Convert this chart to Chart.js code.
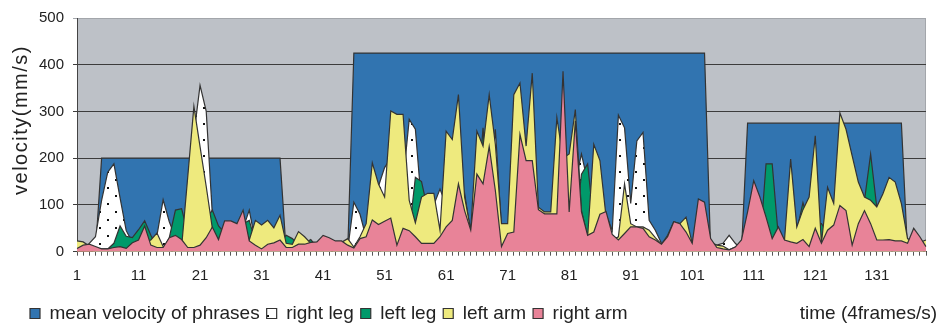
<!DOCTYPE html>
<html lang="en">
<head>
<meta charset="UTF-8">
<title>Velocity of body parts</title>
<script src="https://cdn.jsdelivr.net/npm/chart.js"></script>
<style>
  html, body { margin: 0; padding: 0; background: #ffffff; }
  #wrap { width: 940px; height: 327px; }
</style>
</head>
<body>
<div id="wrap"><canvas id="velocityChart" width="940" height="327"></canvas></div>
<script>
  // time axis: one category per sample (4 frames/s), labelled every 10th
  const frames = Array.from({ length: 139 }, (_, i) => i + 1);
  const labelEvery = 10;
  const yTicks = [0, 100, 200, 300, 400, 500];

  const meanVelocity = [
    0, 0, 0, 0, 200, 200, 200, 200, 200, 200,
    200, 200, 200, 200, 200, 200, 200, 200, 200, 200,
    200, 200, 200, 200, 200, 200, 200, 200, 200, 200,
    200, 200, 200, 200, 0, 0, 0, 0, 0, 0,
    0, 0, 0, 0, 0, 425, 425, 425, 425, 425,
    425, 425, 425, 425, 425, 425, 425, 425, 425, 425,
    425, 425, 425, 425, 425, 425, 425, 425, 425, 425,
    425, 425, 425, 425, 425, 425, 425, 425, 425, 425,
    425, 425, 425, 425, 425, 425, 425, 425, 425, 425,
    425, 425, 425, 425, 425, 425, 425, 425, 425, 425,
    425, 425, 425, 0, 0, 0, 0, 0, 0, 275,
    275, 275, 275, 275, 275, 275, 275, 275, 275, 275,
    275, 275, 275, 275, 275, 275, 275, 275, 275, 275,
    275, 275, 275, 275, 275, 0, 0, 0, 0
  ];

  const rightLeg = [
    0, 0, 18, 32, 110, 170, 188, 115, 45, 20,
    10, 10, 20, 35, 111, 64, 30, 20, 30, 250,
    356, 301, 80, 20, 20, 20, 20, 50, 89, 20,
    5, 5, 5, 5, 5, 5, 5, 5, 5, 5,
    5, 5, 5, 5, 5, 106, 80, 30, 100, 140,
    180, 200, 150, 150, 283, 262, 100, 100, 100, 134,
    100, 100, 100, 100, 40, 100, 100, 100, 262, 50,
    50, 50, 50, 50, 50, 50, 50, 50, 50, 50,
    150, 150, 209, 150, 100, 100, 80, 45, 292, 265,
    103, 237, 255, 67, 46, 18, 10, 10, 10, 10,
    10, 10, 10, 10, 14, 18, 35, 18, 5, 5,
    5, 5, 5, 5, 5, 5, 5, 5, 5, 5,
    5, 5, 5, 5, 5, 5, 5, 5, 5, 5,
    5, 5, 5, 5, 5, 5, 5, 5, 5
  ];

  const leftLeg = [
    0, 0, 0, 3, 6, 6, 18, 55, 33, 30,
    47, 66, 35, 10, 5, 30, 89, 92, 40, 10,
    10, 70, 89, 55, 40, 30, 30, 60, 67, 20,
    10, 10, 10, 20, 35, 28, 15, 18, 26, 10,
    5, 5, 5, 5, 5, 10, 20, 30, 40, 40,
    40, 40, 40, 40, 40, 159, 150, 90, 40, 40,
    40, 40, 40, 125, 40, 100, 265, 100, 100, 30,
    30, 50, 50, 50, 50, 50, 50, 50, 50, 50,
    50, 50, 166, 188, 60, 40, 40, 30, 30, 30,
    30, 30, 30, 30, 20, 10, 10, 10, 10, 10,
    10, 10, 10, 10, 3, 3, 3, 3, 10, 10,
    10, 10, 188, 188, 32, 20, 20, 45, 105, 60,
    60, 60, 40, 50, 50, 50, 50, 50, 110, 209,
    95, 50, 50, 50, 50, 20, 5, 5, 5
  ];

  const leftArm = [
    23, 21, 12, 8, 4, 4, 5, 8, 5, 15,
    18, 20, 25, 40, 11, 15, 20, 10, 160, 311,
    225, 140, 50, 15, 30, 30, 30, 40, 25, 67,
    57, 67, 51, 78, 18, 16, 43, 32, 18, 20,
    15, 18, 20, 20, 28, 10, 32, 60, 190, 145,
    117, 301, 294, 294, 110, 62, 117, 125, 125, 46,
    258, 240, 336, 117, 46, 258, 226, 336, 230, 60,
    60, 336, 361, 226, 382, 95, 85, 85, 287, 200,
    209, 304, 88, 32, 230, 195, 74, 25, 32, 145,
    60, 53, 53, 46, 30, 16, 35, 64, 60, 74,
    18, 60, 60, 20, 14, 12, 4, 10, 20, 40,
    60, 80, 60, 20, 40, 25, 198, 53, 90, 117,
    248, 18, 138, 103, 297, 262, 205, 149, 117, 110,
    96, 124, 159, 149, 103, 28, 20, 20, 25
  ];

  const rightArm = [
    7, 14, 16, 11, 6, 6, 9, 11, 7, 19,
    25, 55, 14, 9, 9, 30, 35, 26, 9, 9,
    14, 30, 53, 26, 66, 66, 60, 89, 23, 14,
    6, 16, 19, 25, 9, 9, 16, 16, 20, 21,
    35, 30, 23, 23, 14, 8, 28, 32, 68, 58,
    65, 72, 14, 50, 45, 32, 18, 18, 18, 32,
    53, 67, 145, 88, 46, 166, 145, 225, 131, 11,
    39, 42, 251, 195, 195, 90, 81, 81, 81, 386,
    85, 280, 85, 35, 42, 80, 86, 37, 25, 39,
    53, 53, 50, 32, 25, 16, 32, 64, 60, 42,
    18, 113, 106, 28, 9, 6, 4, 10, 25, 85,
    152, 117, 74, 28, 53, 25, 21, 18, 26, 11,
    50, 18, 46, 57, 99, 88, 14, 60, 88, 60,
    25, 25, 26, 23, 23, 18, 50, 32, 11
  ];

  const FONT = "'Liberation Sans', Arial, sans-serif";
  const OUTLINE = '#333333';

  // white fill with sparse black dots for the right leg
  function dottedFill() {
    const tile = document.createElement('canvas');
    tile.width = 16;
    tile.height = 16;
    const g = tile.getContext('2d');
    g.fillStyle = '#ffffff';
    g.fillRect(0, 0, 16, 16);
    g.fillStyle = '#111111';
    g.fillRect(3, 3, 2, 2);
    g.fillRect(11, 11, 2, 2);
    return g.createPattern(tile, 'repeat');
  }

  function area(label, data, color, order) {
    return {
      label,
      data,
      order,
      backgroundColor: color,
      borderColor: OUTLINE,
      borderWidth: 1.2,
      fill: 'origin',
      pointRadius: 0,
      tension: 0
    };
  }

  // grey plot background plus the y title and the time caption
  const frame = {
    id: 'frame',
    beforeDraw(chart) {
      const { ctx, chartArea: a } = chart;
      ctx.save();
      ctx.fillStyle = '#bdc1c7';
      ctx.fillRect(a.left, a.top, a.right - a.left, a.bottom - a.top);
      ctx.strokeStyle = '#a3a6ab';
      ctx.lineWidth = 1;
      ctx.beginPath();
      ctx.moveTo(a.right - 0.5, a.top);
      ctx.lineTo(a.right - 0.5, a.bottom);
      ctx.stroke();
      ctx.restore();
    },
    afterDraw(chart) {
      const { ctx } = chart;
      ctx.save();
      ctx.fillStyle = '#222222';
      ctx.textBaseline = 'middle';

      ctx.save();
      ctx.font = '20px ' + FONT;
      ctx.letterSpacing = '1.5px';
      ctx.translate(21, 120);
      ctx.rotate(-Math.PI / 2);
      ctx.textAlign = 'center';
      ctx.fillText('velocity(mm/s)', 0, 0);
      ctx.restore();

      const box = chart.legend.legendHitBoxes[0];
      ctx.font = '19px ' + FONT;
      ctx.textAlign = 'right';
      ctx.fillText('time (4frames/s)', 937, box.top + box.height / 2);
      ctx.restore();
    }
  };

  new Chart(document.getElementById('velocityChart'), {
    type: 'line',
    data: {
      labels: frames,
      datasets: [
        area('mean velocity of phrases', meanVelocity, '#3174b0', 5),
        area('right leg', rightLeg, dottedFill(), 4),
        area('left leg', leftLeg, '#00996a', 3),
        area('left arm', leftArm, '#eeea7e', 2),
        area('right arm', rightArm, '#e88398', 1)
      ]
    },
    plugins: [frame],
    options: {
      responsive: false,
      animation: false,
      layout: { padding: { left: 23, right: 14, top: 16, bottom: 0 } },
      plugins: {
        tooltip: { enabled: false },
        legend: {
          position: 'bottom',
          align: 'start',
          maxHeight: 30,
          labels: {
            boxWidth: 10,
            boxHeight: 10,
            padding: 7,
            color: '#222222',
            font: { family: FONT, size: 19 },
            sort: (a, b) => a.datasetIndex - b.datasetIndex
          }
        }
      },
      scales: {
        x: {
          afterFit: s => { s.height = 45.3; },
          ticks: {
            autoSkip: false,
            maxRotation: 0,
            padding: 11,
            color: '#222222',
            font: { family: FONT, size: 15 },
            callback: (v, i) => (i % labelEvery === 0 ? frames[i] : '')
          },
          grid: { drawOnChartArea: false, drawTicks: true, tickLength: 4, color: '#555555' },
          border: { color: '#444444', width: 1 }
        },
        y: {
          min: yTicks[0],
          max: yTicks[yTicks.length - 1],
          afterFit: s => { s.width = 54; },
          ticks: {
            stepSize: 100,
            padding: 9,
            color: '#222222',
            font: { family: FONT, size: 15 }
          },
          grid: {
            tickLength: 4,
            color: c => (c.tick && c.tick.value === 500 ? '#a3a6ab' : '#3c3c3c'),
            lineWidth: 1
          },
          border: { color: '#444444', width: 1 }
        }
      }
    }
  });
</script>
</body>
</html>
